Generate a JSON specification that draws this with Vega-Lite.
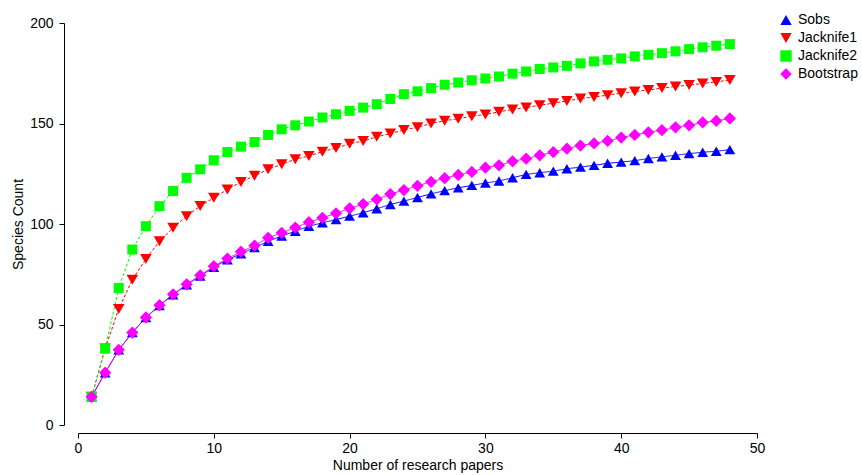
{
"$schema": "https://vega.github.io/schema/vega-lite/v6.json",
"width": 679, "height": 402,
"autosize": "none",
"padding": {"left": 78, "top": 23, "right": 105, "bottom": 50},
"background": "white",
"config": {
  "font": "Liberation Sans",
  "view": {"stroke": null},
  "axis": {"grid": false, "domainColor": "black", "tickColor": "black", "labelColor": "black", "titleColor": "black", "labelFontSize": 14, "titleFontSize": 14, "titleFontWeight": "normal", "labelFont": "Liberation Sans", "titleFont": "Liberation Sans", "domainWidth": 1, "tickWidth": 1},
  "legend": {"labelFont": "Liberation Sans", "labelFontSize": 14, "labelColor": "black", "orient": "none", "legendX": 701, "legendY": -10, "symbolSize": 130, "labelOffset": 5, "rowPadding": 4, "padding": 0, "symbolStrokeWidth": 0}
},
"data": {"values": [
{"n":1,"series":"Sobs","count":14},{"n":2,"series":"Sobs","count":26},{"n":3,"series":"Sobs","count":37.4},{"n":4,"series":"Sobs","count":46},{"n":5,"series":"Sobs","count":53.5},{"n":6,"series":"Sobs","count":59.4},{"n":7,"series":"Sobs","count":64.8},{"n":8,"series":"Sobs","count":69.8},{"n":9,"series":"Sobs","count":74.1},{"n":10,"series":"Sobs","count":78.5},{"n":11,"series":"Sobs","count":82.2},{"n":12,"series":"Sobs","count":85.2},{"n":13,"series":"Sobs","count":88.3},{"n":14,"series":"Sobs","count":91.4},{"n":15,"series":"Sobs","count":94},{"n":16,"series":"Sobs","count":96.4},{"n":17,"series":"Sobs","count":98.9},{"n":18,"series":"Sobs","count":100.6},{"n":19,"series":"Sobs","count":102.2},{"n":20,"series":"Sobs","count":103.9},{"n":21,"series":"Sobs","count":105.6},{"n":22,"series":"Sobs","count":107.6},{"n":23,"series":"Sobs","count":109.7},{"n":24,"series":"Sobs","count":111.4},{"n":25,"series":"Sobs","count":113.2},{"n":26,"series":"Sobs","count":115},{"n":27,"series":"Sobs","count":116.6},{"n":28,"series":"Sobs","count":118},{"n":29,"series":"Sobs","count":119.2},{"n":30,"series":"Sobs","count":120.4},{"n":31,"series":"Sobs","count":121.4},{"n":32,"series":"Sobs","count":123},{"n":33,"series":"Sobs","count":124.7},{"n":34,"series":"Sobs","count":125.5},{"n":35,"series":"Sobs","count":126.3},{"n":36,"series":"Sobs","count":127.5},{"n":37,"series":"Sobs","count":128.3},{"n":38,"series":"Sobs","count":129.2},{"n":39,"series":"Sobs","count":130.2},{"n":40,"series":"Sobs","count":130.8},{"n":41,"series":"Sobs","count":131.5},{"n":42,"series":"Sobs","count":132.6},{"n":43,"series":"Sobs","count":133.4},{"n":44,"series":"Sobs","count":134.2},{"n":45,"series":"Sobs","count":135},{"n":46,"series":"Sobs","count":135.7},{"n":47,"series":"Sobs","count":136.2},{"n":48,"series":"Sobs","count":137},
{"n":1,"series":"Jacknife1","count":14},{"n":2,"series":"Jacknife1","count":38},{"n":3,"series":"Jacknife1","count":57.7},{"n":4,"series":"Jacknife1","count":72.3},{"n":5,"series":"Jacknife1","count":82.6},{"n":6,"series":"Jacknife1","count":91.4},{"n":7,"series":"Jacknife1","count":98.1},{"n":8,"series":"Jacknife1","count":103.9},{"n":9,"series":"Jacknife1","count":108.9},{"n":10,"series":"Jacknife1","count":113},{"n":11,"series":"Jacknife1","count":117.2},{"n":12,"series":"Jacknife1","count":120.9},{"n":13,"series":"Jacknife1","count":124},{"n":14,"series":"Jacknife1","count":127.2},{"n":15,"series":"Jacknife1","count":129.7},{"n":16,"series":"Jacknife1","count":132.2},{"n":17,"series":"Jacknife1","count":133.8},{"n":18,"series":"Jacknife1","count":136},{"n":19,"series":"Jacknife1","count":137.8},{"n":20,"series":"Jacknife1","count":139.9},{"n":21,"series":"Jacknife1","count":141.3},{"n":22,"series":"Jacknife1","count":143.4},{"n":23,"series":"Jacknife1","count":145},{"n":24,"series":"Jacknife1","count":146.8},{"n":25,"series":"Jacknife1","count":148.1},{"n":26,"series":"Jacknife1","count":150},{"n":27,"series":"Jacknife1","count":151.4},{"n":28,"series":"Jacknife1","count":152.4},{"n":29,"series":"Jacknife1","count":153.6},{"n":30,"series":"Jacknife1","count":154.5},{"n":31,"series":"Jacknife1","count":155.8},{"n":32,"series":"Jacknife1","count":157},{"n":33,"series":"Jacknife1","count":157.9},{"n":34,"series":"Jacknife1","count":159.1},{"n":35,"series":"Jacknife1","count":160.1},{"n":36,"series":"Jacknife1","count":161.2},{"n":37,"series":"Jacknife1","count":162.4},{"n":38,"series":"Jacknife1","count":163.2},{"n":39,"series":"Jacknife1","count":164.1},{"n":40,"series":"Jacknife1","count":165.1},{"n":41,"series":"Jacknife1","count":165.9},{"n":42,"series":"Jacknife1","count":166.7},{"n":43,"series":"Jacknife1","count":167.6},{"n":44,"series":"Jacknife1","count":168.4},{"n":45,"series":"Jacknife1","count":169.1},{"n":46,"series":"Jacknife1","count":169.9},{"n":47,"series":"Jacknife1","count":170.7},{"n":48,"series":"Jacknife1","count":171.6},
{"n":1,"series":"Jacknife2","count":14},{"n":2,"series":"Jacknife2","count":38},{"n":3,"series":"Jacknife2","count":68.2},{"n":4,"series":"Jacknife2","count":87.3},{"n":5,"series":"Jacknife2","count":98.9},{"n":6,"series":"Jacknife2","count":108.9},{"n":7,"series":"Jacknife2","count":116.4},{"n":8,"series":"Jacknife2","count":123},{"n":9,"series":"Jacknife2","count":127.2},{"n":10,"series":"Jacknife2","count":131.7},{"n":11,"series":"Jacknife2","count":135.8},{"n":12,"series":"Jacknife2","count":138.5},{"n":13,"series":"Jacknife2","count":140.8},{"n":14,"series":"Jacknife2","count":144.3},{"n":15,"series":"Jacknife2","count":147.1},{"n":16,"series":"Jacknife2","count":149.1},{"n":17,"series":"Jacknife2","count":151},{"n":18,"series":"Jacknife2","count":153},{"n":19,"series":"Jacknife2","count":154.6},{"n":20,"series":"Jacknife2","count":156.3},{"n":21,"series":"Jacknife2","count":157.9},{"n":22,"series":"Jacknife2","count":159.6},{"n":23,"series":"Jacknife2","count":162.2},{"n":24,"series":"Jacknife2","count":164.6},{"n":25,"series":"Jacknife2","count":166},{"n":26,"series":"Jacknife2","count":167.6},{"n":27,"series":"Jacknife2","count":169.3},{"n":28,"series":"Jacknife2","count":170.4},{"n":29,"series":"Jacknife2","count":171.5},{"n":30,"series":"Jacknife2","count":172.4},{"n":31,"series":"Jacknife2","count":173.4},{"n":32,"series":"Jacknife2","count":174.8},{"n":33,"series":"Jacknife2","count":175.9},{"n":34,"series":"Jacknife2","count":177.1},{"n":35,"series":"Jacknife2","count":177.9},{"n":36,"series":"Jacknife2","count":178.7},{"n":37,"series":"Jacknife2","count":179.9},{"n":38,"series":"Jacknife2","count":180.9},{"n":39,"series":"Jacknife2","count":181.7},{"n":40,"series":"Jacknife2","count":182.4},{"n":41,"series":"Jacknife2","count":183.4},{"n":42,"series":"Jacknife2","count":184.2},{"n":43,"series":"Jacknife2","count":185},{"n":44,"series":"Jacknife2","count":185.9},{"n":45,"series":"Jacknife2","count":187},{"n":46,"series":"Jacknife2","count":187.9},{"n":47,"series":"Jacknife2","count":188.7},{"n":48,"series":"Jacknife2","count":189.5},
{"n":1,"series":"Bootstrap","count":14},{"n":2,"series":"Bootstrap","count":26},{"n":3,"series":"Bootstrap","count":37.4},{"n":4,"series":"Bootstrap","count":46},{"n":5,"series":"Bootstrap","count":53.5},{"n":6,"series":"Bootstrap","count":59.6},{"n":7,"series":"Bootstrap","count":65},{"n":8,"series":"Bootstrap","count":70},{"n":9,"series":"Bootstrap","count":74.5},{"n":10,"series":"Bootstrap","count":79},{"n":11,"series":"Bootstrap","count":82.8},{"n":12,"series":"Bootstrap","count":86.2},{"n":13,"series":"Bootstrap","count":89.3},{"n":14,"series":"Bootstrap","count":93.1},{"n":15,"series":"Bootstrap","count":95.6},{"n":16,"series":"Bootstrap","count":98.2},{"n":17,"series":"Bootstrap","count":100.9},{"n":18,"series":"Bootstrap","count":103.1},{"n":19,"series":"Bootstrap","count":105.3},{"n":20,"series":"Bootstrap","count":107.8},{"n":21,"series":"Bootstrap","count":109.9},{"n":22,"series":"Bootstrap","count":112.3},{"n":23,"series":"Bootstrap","count":114.9},{"n":24,"series":"Bootstrap","count":116.9},{"n":25,"series":"Bootstrap","count":119},{"n":26,"series":"Bootstrap","count":121},{"n":27,"series":"Bootstrap","count":122.8},{"n":28,"series":"Bootstrap","count":124.4},{"n":29,"series":"Bootstrap","count":125.9},{"n":30,"series":"Bootstrap","count":128},{"n":31,"series":"Bootstrap","count":129.2},{"n":32,"series":"Bootstrap","count":131.2},{"n":33,"series":"Bootstrap","count":132.5},{"n":34,"series":"Bootstrap","count":134.2},{"n":35,"series":"Bootstrap","count":135.8},{"n":36,"series":"Bootstrap","count":137.5},{"n":37,"series":"Bootstrap","count":139},{"n":38,"series":"Bootstrap","count":140.1},{"n":39,"series":"Bootstrap","count":141.3},{"n":40,"series":"Bootstrap","count":143},{"n":41,"series":"Bootstrap","count":144.3},{"n":42,"series":"Bootstrap","count":145.6},{"n":43,"series":"Bootstrap","count":146.7},{"n":44,"series":"Bootstrap","count":148.1},{"n":45,"series":"Bootstrap","count":149.1},{"n":46,"series":"Bootstrap","count":150.5},{"n":47,"series":"Bootstrap","count":151.3},{"n":48,"series":"Bootstrap","count":152.5}
]},
"encoding": {
  "x": {"field": "n", "type": "quantitative", "scale": {"domain": [0, 50], "nice": false, "zero": false},
        "axis": {"values": [0, 10, 20, 30, 40, 50], "offset": 8, "title": "Number of research papers", "tickSize": 5, "labelPadding": 3, "titlePadding": 3, "labelFlush": false, "labelOverlap": false}},
  "y": {"field": "count", "type": "quantitative", "scale": {"domain": [0, 200], "nice": false},
        "axis": {"values": [0, 50, 100, 150, 200], "offset": 14, "title": "Species Count", "tickSize": 5, "labelPadding": 6, "titlePadding": 4, "labelFlush": false, "labelOverlap": false}}
},
"layer": [
  {
    "mark": {"type": "line", "strokeWidth": 1},
    "encoding": {
      "stroke": {"field": "series", "type": "nominal", "scale": {"domain": ["Bootstrap", "Sobs", "Jacknife1", "Jacknife2"], "range": ["#ff00ff", "#0000ff", "#ff0000", "#00ff00"]}, "legend": null},
      "strokeDash": {"field": "series", "type": "nominal", "scale": {"domain": ["Jacknife1", "Jacknife2", "Sobs", "Bootstrap"], "range": [[3, 2], [3, 2], [1, 0], [1, 0]]}, "legend": null}
    }
  },
  {
    "mark": {"type": "point", "filled": true, "opacity": 1, "strokeWidth": 0},
    "encoding": {
      "color": {"field": "series", "type": "nominal", "scale": {"domain": ["Sobs", "Jacknife1", "Jacknife2", "Bootstrap"], "range": ["#0000ff", "#ff0000", "#00ff00", "#ff00ff"]}, "legend": {"title": null}},
      "shape": {"field": "series", "type": "nominal", "scale": {"domain": ["Sobs", "Jacknife1", "Jacknife2", "Bootstrap"], "range": ["triangle-up", "triangle-down", "square", "diamond"]}, "legend": {"title": null}},
      "size": {"field": "series", "type": "nominal", "scale": {"domain": ["Jacknife2", "Sobs", "Jacknife1", "Bootstrap"], "range": [100, 150, 150, 140]}, "legend": null}
    }
  }
]
}
